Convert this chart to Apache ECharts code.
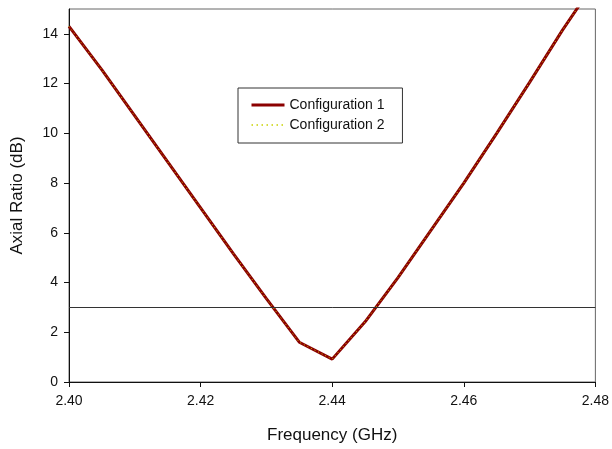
<!DOCTYPE html>
<html>
<head>
<meta charset="utf-8">
<script src="https://cdn.jsdelivr.net/npm/echarts@6/dist/echarts.min.js"></script>
<style>
html,body{margin:0;padding:0;background:#fff;}
#chart{width:612px;height:449px;}
</style>
</head>
<body>
<div id="chart"></div>
<script>
var frequencies = [2.400, 2.405, 2.410, 2.415, 2.420, 2.425, 2.430, 2.435, 2.440, 2.445, 2.450, 2.455, 2.460, 2.465, 2.470, 2.475, 2.480];
var config1 = [14.3, 12.55, 10.7, 8.85, 7.0, 5.15, 3.35, 1.6, 0.92, 2.42, 4.2, 6.1, 8.0, 10.0, 12.05, 14.15, 16.1];
var config2 = [14.3, 12.55, 10.7, 8.85, 7.0, 5.15, 3.35, 1.6, 0.92, 2.42, 4.2, 6.1, 8.0, 10.0, 12.05, 14.15, 16.1];
var threshold = 3;
var seriesNames = ['Configuration 1', 'Configuration 2'];
var yTicks = [0, 2, 4, 6, 8, 10, 12, 14];

function pairs(xs, ys){ return xs.map(function(x,i){ return [x, ys[i]]; }); }

var chart = echarts.init(document.getElementById('chart'));
var font = 'Liberation Sans, Arial, sans-serif';
chart.setOption({
  animation: false,
  backgroundColor: '#fff',
  grid: {left: 69, right: 16, top: 9, bottom: 67, show: true, borderColor: '#666', borderWidth: 1},
  legend: {
    left: 238, top: 88,
    orient: 'vertical',
    padding: [10, 18, 11, 12],
    itemGap: 6,
    itemWidth: 33, itemHeight: 14,
    borderColor: '#333', borderWidth: 1,
    itemStyle: {opacity: 0},
    lineStyle: {width: 'inherit'},
    textStyle: {fontFamily: font, fontSize: 14, color: '#111'},
    data: [
      {name: seriesNames[0]},
      {name: seriesNames[1], lineStyle: {type: [1.5, 3.5], width: 1.5, color: '#c8d200'}}
    ]
  },
  xAxis: {
    type: 'value', min: 2.40, max: 2.48, interval: 0.02,
    name: 'Frequency (GHz)', nameLocation: 'middle', nameGap: 45,
    nameTextStyle: {fontFamily: font, fontSize: 17, color: '#111'},
    axisLine: {lineStyle: {color: '#111', width: 1}},
    axisTick: {show: true, length: 5, lineStyle: {color: '#111'}},
    axisLabel: {fontFamily: font, fontSize: 14, color: '#111', margin: 12,
      formatter: function(v){ return v.toFixed(2); }},
    splitLine: {show: false}
  },
  yAxis: {
    type: 'value', min: 0, max: 15, interval: 2,
    name: 'Axial Ratio (dB)', nameLocation: 'middle', nameGap: 43, nameRotate: 90,
    nameTextStyle: {fontFamily: font, fontSize: 17, color: '#111'},
    axisLine: {show: true, lineStyle: {color: '#111', width: 1}},
    axisTick: {show: true, length: 5, lineStyle: {color: '#111'}, customValues: yTicks},
    axisLabel: {fontFamily: font, fontSize: 14, color: '#111', margin: 11, customValues: yTicks},
    splitLine: {show: false}
  },
  series: [
    {
      name: seriesNames[0], type: 'line', data: pairs(frequencies, config1),
      showSymbol: false, symbol: 'none', clip: true,
      lineStyle: {color: '#8b0000', width: 3},
      itemStyle: {color: '#8b0000'},
      markLine: {
        silent: true, symbol: ['none','none'], label: {show: false},
        lineStyle: {color: '#333', width: 1, type: 'solid'},
        data: [{yAxis: threshold}]
      }
    },
    {
      name: seriesNames[1], type: 'line', data: pairs(frequencies, config2),
      showSymbol: false, symbol: 'none', clip: true,
      lineStyle: {color: '#c8c800', width: 1, type: [1, 3]},
      itemStyle: {color: '#c8c800'}
    }
  ]
});
</script>
</body>
</html>
